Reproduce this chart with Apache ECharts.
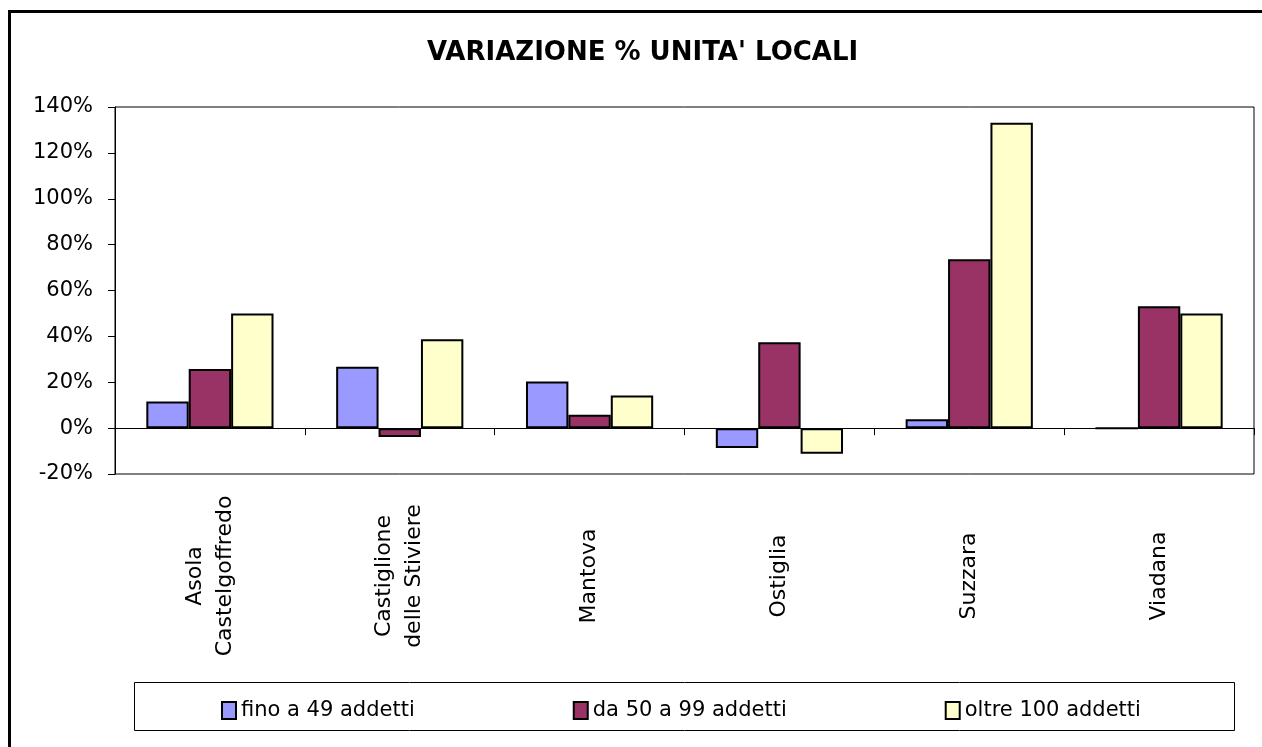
<!DOCTYPE html>
<html>
<head>
<meta charset="utf-8">
<script src="https://cdn.jsdelivr.net/npm/echarts@6/dist/echarts.min.js"></script>
<style>
  html, body { margin: 0; padding: 0; background: #fff; }
  #chart { width: 1262px; height: 747px; }
</style>
</head>
<body>
<div id="chart"></div>
<script>
// comuni (etichette asse x)
var categorie = ['Asola\nCastelgoffredo', 'Castiglione\ndelle Stiviere', 'Mantova', 'Ostiglia', 'Suzzara', 'Viadana'];
// variazioni %
var fino49 = [11.6, 26.8, 20.3, -8.7, 3.9, 0];
var da50a99 = [25.8, -3.9, 5.8, 37.4, 73.6, 53.1];
var oltre100 = [50.0, 38.7, 14.2, -11.2, 133.1, 50.0];
var nomiSerie = ['fino a 49 addetti', 'da 50 a 99 addetti', 'oltre 100 addetti'];
var colori = ['#9999FF', '#993366', '#FFFFCC'];

var font = 'DejaVu Sans';

function serie(nome, dati, colore) {
    return {
        name: nome,
        type: 'bar',
        data: dati,
        barGap: '0%',
        barCategoryGap: '33%',
        itemStyle: { color: colore, borderColor: '#000', borderWidth: 2 }
    };
}

var myChart = echarts.init(document.getElementById('chart'));
var option = {
    animation: false,
    backgroundColor: '#fff',
    title: {
        text: "VARIAZIONE % UNITA' LOCALI",
        left: 422,
        top: 35,
        textStyle: { fontFamily: font, fontSize: 26, fontWeight: 'bold', color: '#000' }
    },
    legend: {
        data: nomiSerie,
        icon: 'rect',
        left: 216,
        top: 695,
        itemGap: 158,
        itemWidth: 14,
        itemHeight: 17,
        textStyle: { fontFamily: font, fontSize: 21, color: '#000' }
    },
    grid: {
        left: 115,
        right: 8,
        top: 107,
        bottom: 273,
        show: true,
        borderColor: '#000',
        borderWidth: 1
    },
    xAxis: {
        type: 'category',
        data: categorie,
        axisLine: { onZero: true, lineStyle: { color: '#000', width: 1 } },
        axisTick: { show: true, length: 7, lineStyle: { color: '#000' } },
        axisLabel: {
            rotate: 90,
            interval: 0,
            align: 'center',
            verticalAlign: 'middle',
            margin: 102,
            lineHeight: 30,
            fontFamily: font,
            fontSize: 22,
            color: '#000'
        }
    },
    yAxis: {
        type: 'value',
        min: -20,
        max: 140,
        interval: 20,
        axisLine: { show: true, lineStyle: { color: '#000' } },
        axisTick: { show: true, length: 7, lineStyle: { color: '#000' } },
        splitLine: { show: false },
        axisLabel: {
            formatter: '{value}%',
            margin: 22,
            fontFamily: font,
            fontSize: 21,
            color: '#000'
        }
    },
    graphic: [
        {
            type: 'rect',
            shape: { x: 9.5, y: 11.5, width: 1270, height: 760 },
            style: { fill: null, stroke: '#000', lineWidth: 3 },
            silent: true
        },
        {
            type: 'rect',
            shape: { x: 134.5, y: 682.5, width: 1100, height: 48 },
            style: { fill: null, stroke: '#000', lineWidth: 1 },
            silent: true
        }
    ],
    series: [
        serie(nomiSerie[0], fino49, colori[0]),
        serie(nomiSerie[1], da50a99, colori[1]),
        serie(nomiSerie[2], oltre100, colori[2])
    ]
};
myChart.setOption(option);
</script>
</body>
</html>
